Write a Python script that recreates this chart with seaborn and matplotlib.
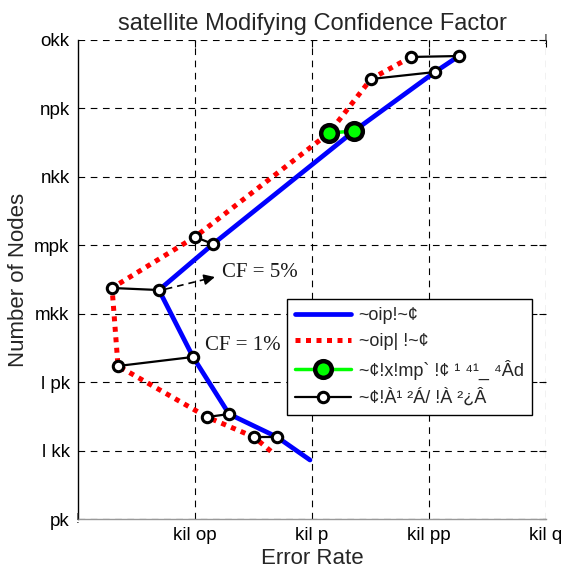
import matplotlib
matplotlib.use("Agg")
import matplotlib.pyplot as plt
from matplotlib.lines import Line2D
import seaborn as sns
import pandas as pd

# ---------------- data ----------------
title = "satellite Modifying Confidence Factor"
x_label = "Error Rate"
y_label = "Number of Nodes"
x_ticks = [1, 2, 3, 4]
x_tick_labels = ["kil op", "kil p", "kil pp", "kil q"]
y_ticks = [50, 100, 150, 200, 250, 300, 350, 400]
y_tick_labels = ["pk", "l kk", "l pk", "mkk", "mpk", "nkk", "npk", "okk"]

blue_x = [3.256, 3.051, 2.359, 1.154, 0.692, 0.983, 1.291, 1.701, 1.983]
blue_y = [388.3, 376.6, 333.5, 250.9, 217.3, 168.4, 126.7, 109.9, 93.1]
red_x = [2.846, 2.504, 2.145, 1.000, 0.291, 0.342, 1.103, 1.504, 1.667]
red_y = [387.6, 371.5, 332.0, 256.1, 218.8, 161.8, 124.5, 109.9, 98.2]
black_pairs = [0, 1, 3, 4, 5, 6, 7]
green_pairs = [2]

legend_labels = ["~oip!~¢", "~oip| !~¢", "~¢!x!mp` !¢ ¹ ⁴¹_ ⁴Âd", "~¢!À¹ ²Á/ !À ²¿Â"]
annot5 = "CF = 5%"
annot1 = "CF = 1%"

# ---------------- style ----------------
sns.set_style("white")
plt.rcParams["font.family"] = ["Liberation Sans", "DejaVu Sans"]

fig = plt.figure(figsize=(5.66, 5.74), dpi=100)
ax = fig.add_axes([78 / 566, 1 - 519 / 574, 468 / 566, 479 / 574])

df_blue = pd.DataFrame({"x": blue_x, "y": blue_y})
df_red = pd.DataFrame({"x": red_x, "y": red_y})

sns.lineplot(data=df_blue, x="x", y="y", sort=False, estimator=None, ax=ax,
             color=(0, 0, 1), lw=3.4, zorder=3)
sns.lineplot(data=df_red, x="x", y="y", sort=False, estimator=None, ax=ax,
             color=(1, 0, 0), lw=3.6, zorder=3)
ax.lines[-1].set_linestyle((0, (1, 1.1)))
ax.lines[-1].set_dash_capstyle("butt")

for i in black_pairs:
    ax.plot([red_x[i], blue_x[i]], [red_y[i], blue_y[i]], color="black", lw=1.6,
            marker="o", ms=7.5, mfc="white", mec="black", mew=2.2, zorder=5)
for i in green_pairs:
    ax.plot([red_x[i], blue_x[i]], [red_y[i], blue_y[i]], color=(0, 1, 0), lw=2.5,
            marker="o", ms=12, mfc=(0, 1, 0), mec="black", mew=3.2, zorder=6)

# annotations
ax.plot([0.75, 1.12], [218.0, 225.8], color="black", lw=1.2, ls=(0, (4, 3)), zorder=4)
ax.annotate("", xy=(1.17, 226.8), xytext=(1.08, 224.9),
            arrowprops=dict(arrowstyle="-|>", lw=1.2, color="black",
                            mutation_scale=16, shrinkA=0, shrinkB=0), zorder=4)
ax.text(1.23, 229.8, annot5, family=["Liberation Serif", "DejaVu Serif"], fontsize=15,
        ha="left", va="center", color="#1a1a1a")
ax.text(1.085, 177.0, annot1, family=["Liberation Serif", "DejaVu Serif"], fontsize=15,
        ha="left", va="center", color="#1a1a1a")

# axes
ax.set_xlim(0, 4)
ax.set_ylim(50, 400)
ax.set_xticks(x_ticks)
ax.set_xticklabels(x_tick_labels)
ax.set_yticks(y_ticks)
ax.set_yticklabels(y_tick_labels)
ax.tick_params(axis="both", direction="in", length=5, width=0.8, labelsize=13.5,
               colors="black", top=True, right=True, pad=6)
ax.grid(True, color="black", ls=(0, (6, 5)), lw=0.8)
for s in ["top", "right"]:
    ax.spines[s].set_visible(False)
ax.spines["left"].set_color("black")
ax.spines["left"].set_linewidth(1.0)
ax.spines["bottom"].set_color("#999999")
ax.spines["bottom"].set_linewidth(1.0)

ax.set_xlabel(x_label, fontsize=16, labelpad=3)
ax.set_ylabel(y_label, fontsize=16, labelpad=4)
ax.set_title(title, fontsize=17, pad=7)

ax.text(1.0, 1.0, "!", transform=ax.transAxes, fontsize=10, ha="center", va="center")
ax.text(0.0, 0.0, "!", transform=ax.transAxes, fontsize=10, ha="center", va="center")

handles = [
    Line2D([], [], color=(0, 0, 1), lw=3.4),
    Line2D([], [], color=(1, 0, 0), lw=3.6, ls=(0, (1, 1.1))),
    Line2D([], [], color=(0, 1, 0), lw=2.5, marker="o", ms=12, mfc=(0, 1, 0),
           mec="black", mew=3.2),
    Line2D([], [], color="black", lw=1.6, marker="o", ms=7.5, mfc="white",
           mec="black", mew=2.2),
]
leg = ax.legend(handles, legend_labels, loc="upper left", bbox_to_anchor=(0.447, 0.459),
                fontsize=13, frameon=True, fancybox=False, handlelength=3.1,
                borderpad=0.45, labelspacing=0.5, handletextpad=0.4, borderaxespad=0)
leg.get_frame().set_edgecolor("black")
leg.get_frame().set_linewidth(1.0)
leg.get_frame().set_alpha(1)

fig.savefig("out.png", dpi=100, facecolor="white")
